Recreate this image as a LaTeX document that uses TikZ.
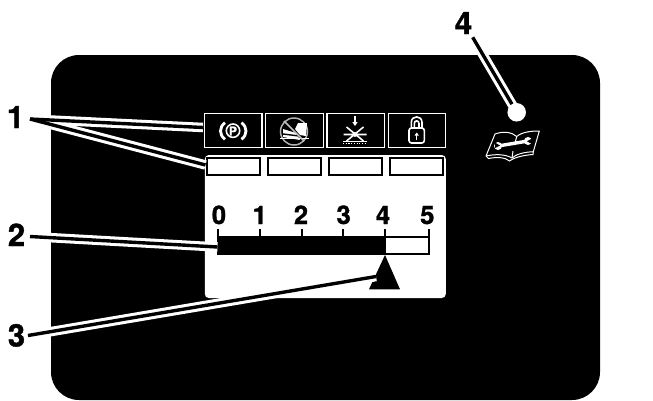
\documentclass[tikz,border=0pt]{standalone}
\usepackage{fontspec}
\setmainfont{TeX Gyre Heros}[BoldFeatures={FakeBold=1.3}]
\begin{document}
\begin{tikzpicture}[x=1pt,y=-1pt,
  iconbox/.style={draw=white,line width=1.3pt,fill=black,minimum width=57.5pt,minimum height=33.5pt,inner sep=0pt},
  slot/.style={draw=black,line width=2.2pt,fill=white,minimum width=53pt,minimum height=17pt,inner sep=0pt},
  callout/.style={font=\fontsize{31}{31}\selectfont\bfseries,inner sep=0pt,anchor=base},
  digit/.style={font=\fontsize{25.5}{25.5}\selectfont\bfseries,inner sep=0pt,anchor=base},
  casing/.style={draw=white,line width=9.5pt},
  leader/.style={draw=black,line width=3.4pt},
  tick/.style={draw=black,line width=2.2pt},
  ico/.style={draw=white,line width=1.6pt}]
\useasboundingbox (0,0) rectangle (653,400);
\fill[black,rounded corners=28pt] (51,55) rectangle (600,400);
% panel
\node[fill=white,rounded corners=4pt,minimum width=241pt,minimum height=143pt,inner sep=0pt] (panel) at (325.3,226.5) {};
% icon boxes
\node[iconbox] (i1) at (233.3,130.5) {};
\node[iconbox] (i2) at (294.5,130.5) {};
\node[iconbox] (i3) at (355.7,130.5) {};
\node[iconbox] (i4) at (416.9,130.5) {};
% slots
\node[slot] (s1) at (233.5,166.7) {};
\node[slot] (s2) at (294.7,166.7) {};
\node[slot] (s3) at (355.8,166.7) {};
\node[slot] (s4) at (416.7,166.7) {};
% bar
\draw[black,line width=2.2pt,fill=white] (385,237) rectangle (429,253.7);
\fill[black] (216.7,236) rectangle (386,254.7);
\foreach \n/\x in {a/218.3,b/260.3,c/302,d/343.3,e/384.8,f/428.6}{
  \coordinate (t\n) at (\x,236);
  \draw[tick] (\x,229) -- (t\n);
}
\node[digit] (d0) at (219,224) {0};
\node[digit] (d1) at (259.7,224) {1};
\node[digit] (d2) at (301,224) {2};
\node[digit] (d3) at (343.7,224) {3};
\node[digit] (d4) at (383,224) {4};
\node[digit] (d5) at (427.3,224) {5};
% triangle
\fill[black] (385,255) -- (400,289.3) -- (369,289.3) -- cycle;
\coordinate (tri) at (376,276.5);
\coordinate (bar) at (217.5,247);
\coordinate (l1) at (30,119);
\coordinate (l2) at (30,236.5);
\coordinate (l3) at (28,335.5);
\coordinate (l4) at (472.7,37.3);
\coordinate (e1) at (203,127.5);
\coordinate (e2) at (205.5,165);
\coordinate (dotc) at (516.7,112.3);
% leaders: white casing, then the black line
\draw[casing] (l1) -- (e1);
\draw[casing] (l1) -- (e2);
\draw[casing] (l2) -- (bar);
\draw[casing] (l3) -- (tri);
\draw[casing] (l4) -- (dotc);
% labels
\node[callout] (n1) at (15.5,128) {1};
\node[callout] (n2) at (16.5,246) {2};
\node[callout] (n3) at (16.5,346.5) {3};
\node[callout] (n4) at (463.5,34) {4};
% circle
\node[circle,fill=white,minimum size=18.5pt,inner sep=0pt] (dot) at (dotc) {};
\draw[leader] (l1) -- (e1);
\draw[leader] (l1) -- (e2);
\draw[leader] (l2) -- (bar);
\draw[leader] (l3) -- (tri);
\draw[leader] (l4) -- (dot);
% parking icon
\draw[ico] (233,130.7) circle[radius=6.7pt];
\node[font=\fontsize{12}{12}\selectfont\bfseries,text=white,inner sep=0pt] (pp) at (233,130.9) {P};
\draw[white,line width=2.8pt] (225,122.7) .. controls (219,127) and (219,135) .. (225,139.3);
\draw[white,line width=2.8pt] (241.5,122.7) .. controls (247.5,127) and (247.5,135) .. (241.5,139.3);
% no-foot icon
\draw[white!70!black,line width=1.5pt] (294,131.5) circle[radius=13.5pt];
\fill[white] (283,129) -- (296,133) -- (300,140) -- (283,137) -- cycle;
\fill[white] (298,123) -- (307,123) -- (306,136) -- (300,135) -- (295,129) -- cycle;
\draw[black,line width=1.4pt] (283,134) -- (299,136);
\draw[white,line width=1.3pt] (280,138.5) -- (309,138.5);
\draw[white!75!black,line width=1.7pt] (284,121) -- (304,141);
% impact icon
\draw[white,line width=1.2pt] (355,116) -- (355,124);
\fill[white] (352.3,122) -- (357.7,122) -- (355,126) -- cycle;
\draw[white,line width=1.6pt] (346.5,127) -- (363.5,141) (363.5,127) -- (346.5,141) (343.5,134.5) -- (366.5,134.5);
\fill[white] (355,134.5) circle[radius=2.4pt];
\draw[white,line width=1.2pt] (343,141.7) -- (367,141.7);
\draw[white,line width=1.2pt,dash pattern=on 1.2pt off 1.5pt] (343,143.3) -- (367,143.3);
% padlock
\draw[ico,rounded corners=2.5pt] (409,128) rectangle (424.3,143);
\draw[ico] (411.3,128) -- (411.3,122.5) .. controls (411.3,115) and (422,115) .. (422,122.5) -- (422,128);
\draw[ico] (414.3,128) -- (414.3,123.5) .. controls (414.3,120) and (419,120) .. (419,123.5) -- (419,128);
\draw[white,line width=1.1pt] (416.7,139.5) -- (416.7,134.5);
\fill[white] (414.5,135.5) -- (418.9,135.5) -- (416.7,132.5) -- cycle;
% book
\draw[white,line width=1pt,line join=round] (486,156) -- (495,134) .. controls (503,131) and (512,132) .. (516.7,136.5) .. controls (522,132) and (531,131) .. (539.3,131) -- (533.3,151.7) .. controls (525,152) and (516,154) .. (512,158) .. controls (505,154) and (495,154) .. (486,156) -- cycle;
\draw[white,line width=1pt] (486,156) -- (488.5,158.5) .. controls (496,157) and (505,157) .. (509.5,161) .. controls (515,157) and (525,155) .. (533,154.5) -- (533.3,151.7);
\draw[white,line width=1pt] (516.7,136.5) -- (514.5,145) (513,151) -- (512,158);
\draw[white,line width=3.4pt] (498,146) -- (528,141);
\fill[white] (498,146) circle[radius=4pt] (528,141) circle[radius=4pt];
\fill[black] (495,142.5) -- (500,145.5) -- (495,148) -- cycle;
\fill[black] (532,138.5) -- (527,141.3) -- (532,144) -- cycle;
\end{tikzpicture}
\end{document}
